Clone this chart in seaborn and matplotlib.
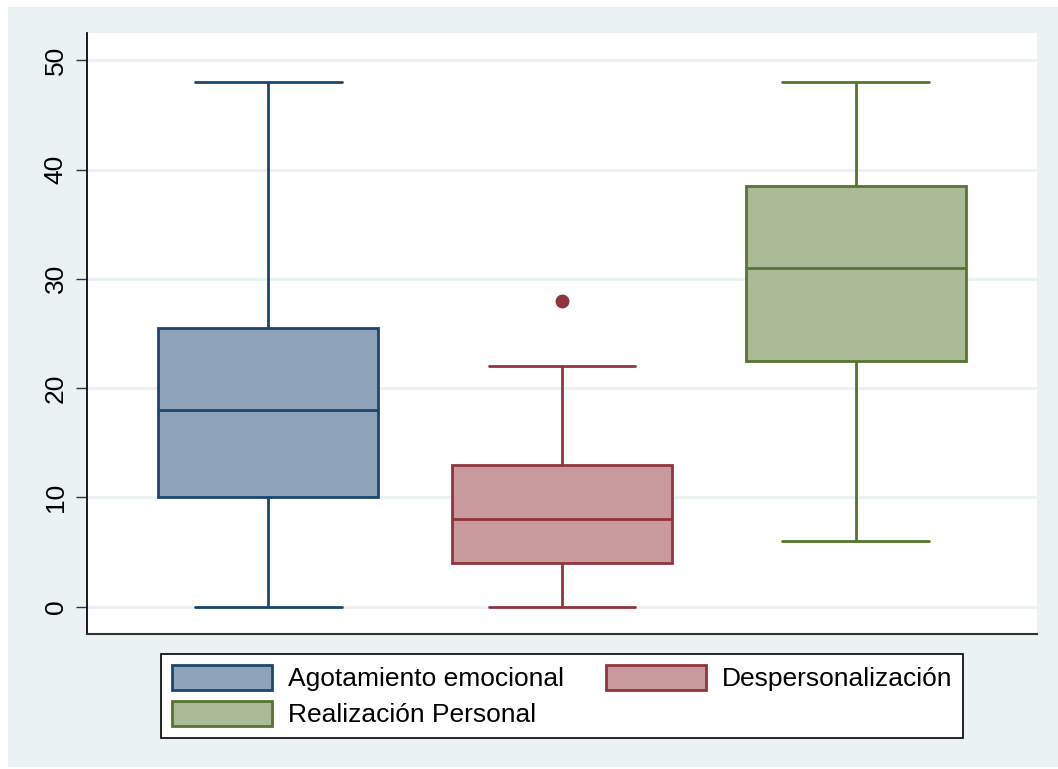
import numpy as np
import pandas as pd
import matplotlib
matplotlib.use("Agg")
import matplotlib.pyplot as plt
from matplotlib.patches import Patch, Rectangle
import seaborn as sns

sns.set_theme(style="white")
plt.rcParams['font.family'] = ['Liberation Sans', 'DejaVu Sans']

# Categorias y valores (datos minimos que reproducen cuartiles, bigotes y atipicos)
categorias = ['Agotamiento emocional', 'Despersonalización', 'Realización Personal']
agotamiento = [0, 10, 18, 25.5, 48]
despersonalizacion = [0, 2, 4, 6, 8, 10, 13, 22, 28]
realizacion = [6, 22.5, 31, 38.5, 48]

colores_relleno = ['#8EA3B9', '#C89A9D', '#ABBA96']
colores_borde = ['#1A476F', '#90353B', '#55752F']
yticks = [0, 10, 20, 30, 40, 50]

df = pd.DataFrame({
    'dimension': [categorias[0]] * len(agotamiento)
                 + [categorias[1]] * len(despersonalizacion)
                 + [categorias[2]] * len(realizacion),
    'puntaje': agotamiento + despersonalizacion + realizacion,
})

fondo = '#EAF2F3'
fig = plt.figure(figsize=(10.58, 7.69), dpi=100, facecolor='white')
fig.patches.append(Rectangle((8 / 1058, 2 / 769), 1 - 8 / 1058, 1 - 9 / 769,
                             transform=fig.transFigure, facecolor=fondo,
                             edgecolor='none', zorder=-10))
ax = fig.add_axes([87 / 1058, 1 - 634 / 769, 950 / 1058, 601 / 769])
ax.set_facecolor('white')

for cat, relleno, borde in zip(categorias, colores_relleno, colores_borde):
    sns.boxplot(data=df[df['dimension'] == cat], x='dimension', y='puntaje',
                order=categorias, color=relleno, linecolor=borde, linewidth=2,
                width=0.75, saturation=1, capwidths=0.5, ax=ax,
                flierprops=dict(marker='o', markerfacecolor=borde,
                                markeredgecolor=borde, markersize=9))

ax.set_xlim(-0.616, 2.616)
ax.set_ylim(-2.5, 52.5)
ax.set_yticks(yticks)
ax.set_yticklabels([str(t) for t in yticks], rotation=90, va='center',
                   fontsize=19, color='black')
ax.set_xticks([])
ax.set_xlabel('')
ax.set_ylabel('')
ax.yaxis.grid(True, color=fondo, linewidth=2)
ax.set_axisbelow(True)
ax.tick_params(axis='y', left=True, length=8, width=1, color='#333333', pad=6)
for lado in ['top', 'right']:
    ax.spines[lado].set_visible(False)
ax.spines['left'].set_color('black')
ax.spines['bottom'].set_color('#333333')
ax.spines['bottom'].set_linewidth(1.5)

orden_leyenda = [0, 2, 1]
handles = [Patch(facecolor=colores_relleno[i], edgecolor=colores_borde[i],
                 linewidth=2, label=categorias[i]) for i in orden_leyenda]
leg = fig.legend(handles=handles, ncol=2, loc='center',
                 bbox_to_anchor=(562 / 1058, 1 - 696 / 769), fontsize=19,
                 frameon=True, fancybox=False, edgecolor='black', framealpha=1,
                 handlelength=3.8, handleheight=1.1, columnspacing=1.6,
                 handletextpad=0.6, labelspacing=0.35, borderpad=0.4)
leg.get_frame().set_linewidth(1.2)
leg.get_frame().set_facecolor('white')
for t in leg.get_texts():
    t.set_color('black')

fig.savefig('out.png', dpi=100, facecolor=fig.get_facecolor())
